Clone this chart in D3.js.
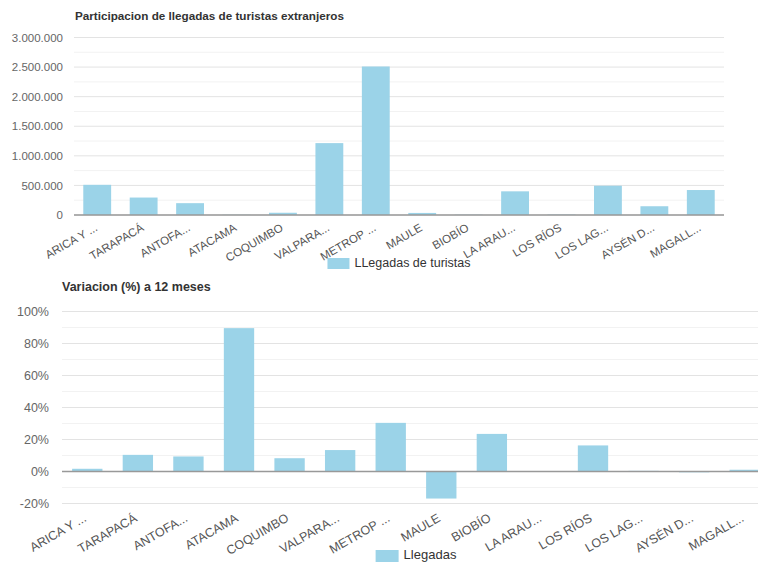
<!DOCTYPE html>
<html><head><meta charset="utf-8">
<script src="https://cdn.jsdelivr.net/npm/d3@7"></script>
<style>
body{margin:0;background:#fff;font-family:"Liberation Sans",Arial,sans-serif;}
svg{display:block}
</style></head>
<body><svg id="c" width="758" height="563"></svg>
<script>
const categories = ["ARICA Y ...","TARAPACÁ","ANTOFA...","ATACAMA","COQUIMBO","VALPARA...","METROP ...","MAULE","BIOBÍO","LA ARAU...","LOS RÍOS","LOS LAG...","AYSÉN D...","MAGALL..."];
const llegadas = [510000, 295000, 200000, 4000, 38000, 1215000, 2510000, 35000, 5000, 400000, 8000, 495000, 148000, 422000];
const variacion = [1.7, 10.4, 9.4, 89.6, 8.3, 13.4, 30.4, -16.9, 23.5, 0.1, 16.3, 0.4, -0.5, 1.1];
const topTicks = [0, 500000, 1000000, 1500000, 2000000, 2500000, 3000000];
const botTicks = [-20, 0, 20, 40, 60, 80, 100];
const titles = ["Participacion de llegadas de turistas extranjeros", "Variacion (%) a 12 meses"];
const legends = ["LLegadas de turistas", "Llegadas"];

const svg = d3.select("#c");
const barColor = "#9bd3e8";
const fmtThousands = d3.formatLocale({decimal: ",", thousands: ".", grouping: [3], currency: ["$",""]}).format(",d");

function drawChart(o) {
  const g = svg.append("g");
  const xb = d3.scaleBand().domain(categories).range([o.left, o.right]).padding(0);
  const y = d3.scaleLinear().domain(o.domain).range([o.bottom, o.top]);
  const minor = [];
  for (let i = 0; i < o.ticks.length - 1; i++) minor.push((o.ticks[i] + o.ticks[i+1]) / 2);
  g.selectAll(".mg").data(minor).join("line")
    .attr("x1", o.left).attr("x2", o.right)
    .attr("y1", d => y(d)).attr("y2", d => y(d))
    .attr("stroke", "#f2f2f2").attr("stroke-width", 1);
  g.selectAll(".gl").data(o.ticks).join("line")
    .attr("x1", o.left).attr("x2", o.right)
    .attr("y1", d => y(d)).attr("y2", d => y(d))
    .attr("stroke", "#e3e3e3").attr("stroke-width", 1);
  const yAxis = d3.axisLeft(y).tickValues(o.ticks).tickSize(0).tickPadding(0).tickFormat(o.fmt);
  const ya = g.append("g").attr("transform", `translate(${o.labelX},0)`).call(yAxis);
  ya.select(".domain").remove();
  ya.selectAll("text").attr("fill", "#666").style("font-size", o.yfs + "px").style("font-family", "Liberation Sans, Arial, sans-serif");
  const bw = xb.bandwidth() * 0.6;
  g.selectAll(".bar").data(o.values).join("rect")
    .attr("x", (d, i) => xb(categories[i]) + xb.bandwidth() * 0.2)
    .attr("width", bw)
    .attr("y", d => y(Math.max(0, d)))
    .attr("height", d => Math.abs(y(d) - y(0)))
    .attr("fill", barColor);
  g.append("line").attr("x1", o.left).attr("x2", o.right)
    .attr("y1", y(0)).attr("y2", y(0)).attr("stroke", "#999").attr("stroke-width", 1.5);
  const xAxis = d3.axisBottom(xb).tickSize(0).tickPadding(0);
  const xa = g.append("g").attr("transform", `translate(0,${o.bottom})`).call(xAxis);
  xa.select(".domain").remove();
  xa.selectAll("text")
    .attr("fill", "#555")
    .style("font-size", o.xfs + "px").style("font-family", "Liberation Sans, Arial, sans-serif")
    .attr("text-anchor", "end")
    .attr("dy", 0).attr("y", 0)
    .attr("transform", `translate(${o.xlDx},${o.xlDy}) rotate(-30)`);
  g.append("text").attr("x", o.titleX).attr("y", o.titleY).text(o.title)
    .attr("fill", "#333").style("font-weight", "bold").style("font-size", o.tfs + "px");
  const lg = g.append("g");
  const t = lg.append("text").attr("y", o.legY + o.legH / 2).attr("dominant-baseline", "middle")
    .text(o.legend).attr("fill", "#333").style("font-size", o.lfs + "px");
  const tw = t.node().getComputedTextLength();
  const total = o.legW + 5 + tw;
  const cx = (o.left + o.right) / 2;
  const sx = cx - total / 2;
  lg.append("rect").attr("x", sx).attr("y", o.legY).attr("width", o.legW).attr("height", o.legH).attr("fill", barColor);
  t.attr("x", sx + o.legW + 5);
}

drawChart({
  left: 74, right: 724, top: 37.5, bottom: 215, domain: [0, 3000000], ticks: topTicks,
  values: llegadas, fmt: fmtThousands, labelX: 63, yfs: 11.5, xfs: 11.5, xlDx: 1, xlDy: 15,
  title: titles[0], titleX: 75, titleY: 20, tfs: 11.7, legend: legends[0], legY: 258, legH: 11, legW: 22, lfs: 12.5
});
drawChart({
  left: 62, right: 770, top: 311.5, bottom: 503.5, domain: [-20, 100], ticks: botTicks,
  values: variacion, fmt: d => d + "%", labelX: 49, yfs: 12.5, xfs: 12.5, xlDx: 0, xlDy: 17,
  title: titles[1], titleX: 62, titleY: 291, tfs: 12.5, legend: legends[1], legY: 550, legH: 12, legW: 23, lfs: 13
});
</script></body></html>
